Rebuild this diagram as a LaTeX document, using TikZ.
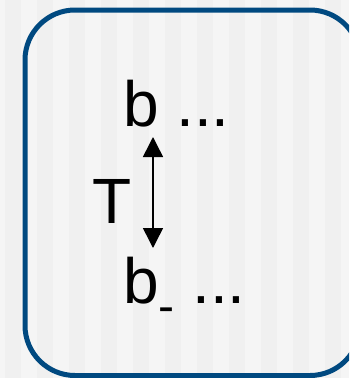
\documentclass[tikz,border=0pt]{standalone}
\usepackage{fontspec}
\setmainfont{Liberation Sans}
\usetikzlibrary{arrows.meta}
\definecolor{frameblue}{RGB}{0,73,128}
\definecolor{bglight}{RGB}{245,245,245}
\definecolor{bgdark}{RGB}{240,240,240}
\tikzset{
  label text/.style={inner sep=0pt, outer sep=0pt, font=\fontsize{64}{64}\selectfont},
  frame/.style={draw=frameblue, line width=5pt, rounded corners=50pt},
  link/.style={line width=1.5pt, {Triangle[width=20pt,length=20pt]}-{Triangle[width=20pt,length=20pt]}}
}
\begin{document}
\begin{tikzpicture}[x=1pt,y=-1pt]
  % canvas with faint vertical stripes
  \fill[bglight] (0,0) rectangle (349,378);
  \foreach \s in {5,37,...,349} {
    \fill[bgdark] (\s,0) rectangle ({min(\s+16,349)},378);
  }
  \useasboundingbox (0,0) rectangle (349,378);
  \begin{scope}
    \clip (0,0) rectangle (349,378);
    \draw[frame] (25,10) rectangle (360,375.5);
  \end{scope}
  % labels
  \node[label text, anchor=base west] (top) at (123,126) {b ...};
  \node[label text, anchor=base west] (bottom) at (123,303)
    {b\raisebox{-19pt}{\fontsize{48}{48}\selectfont -} ...};
  \node[label text, anchor=base west] (tlabel) at (92.5,223) {T};
  % double-headed arrow between the two lines
  \coordinate (up) at (153,137);
  \coordinate (dn) at (153,248);
  \draw[link] (up) -- (dn);
\end{tikzpicture}
\end{document}
